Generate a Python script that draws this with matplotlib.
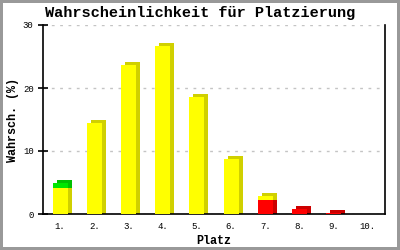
import numpy as np
import matplotlib.pyplot as plt
from matplotlib.transforms import ScaledTranslation

places = ["1.", "2.", "3.", "4.", "5.", "6.", "7.", "8.", "9.", "10."]
red_part = [0, 0, 0, 0, 0, 0, 2.3, 0.75, 0.12, 0]
yellow_part = [4.2, 14.4, 23.6, 26.6, 18.5, 8.8, 0.55, 0, 0, 0]
green_part = [0.65, 0, 0, 0, 0, 0, 0, 0, 0, 0]
yticks = [0, 10, 20, 30]

series = [
    (red_part, "#ff0000", "#cc0000"),
    (yellow_part, "#ffff00", "#d0d000"),
    (green_part, "#00e600", "#00c000"),
]

mono = "Liberation Mono"
fig = plt.figure(figsize=(4, 2.5), dpi=100)
fig.patch.set_edgecolor("#999999")
fig.patch.set_linewidth(3)
ax = fig.add_axes([0.1075, 0.144, 0.855, 0.756])

x = np.arange(len(places))
w = 0.44
depth = ax.transData + ScaledTranslation(4 / 100, 3 / 100, fig.dpi_scale_trans)

bottom = np.zeros(len(places))
for vals, front, side in series:
    vals = np.array(vals)
    has = vals > 0
    # darker copy shifted up/right gives the 3d side and top
    ax.bar(x[has], vals[has] + 0.6, bottom=bottom[has] - 0.6, width=w,
           color=side, transform=depth, zorder=2, linewidth=0)
    bottom = bottom + vals

bottom = np.zeros(len(places))
for vals, front, side in series:
    vals = np.array(vals)
    has = vals > 0
    ax.bar(x[has], vals[has], bottom=bottom[has], width=w,
           color=front, zorder=3, linewidth=0)
    bottom = bottom + vals

ax.set_xlim(-0.5, len(places) - 0.5)
ax.set_ylim(0, 30)
ax.set_yticks(yticks)
ax.set_xticks(x)
ax.set_xticklabels(places, fontfamily=mono, fontsize=6.5)
ax.set_yticklabels([str(t) for t in yticks], fontfamily=mono, fontsize=6.5)
ax.tick_params(axis="y", direction="inout", length=6.5, width=1.2, pad=3.5)
ax.tick_params(axis="x", length=0, pad=6)
ax.yaxis.grid(True, color="#c4c4c4", linestyle=(0, (2, 4)), linewidth=1)
ax.set_axisbelow(True)
ax.spines["top"].set_visible(False)
for s in ["left", "right", "bottom"]:
    ax.spines[s].set_linewidth(1.2)

ax.set_xlabel("Platz", fontfamily=mono, fontweight="bold", fontsize=8.5, labelpad=2.5)
ax.set_ylabel("Wahrsch. (%)", fontfamily=mono, fontweight="bold", fontsize=8.5, labelpad=3)
fig.text(0.5, 0.948, "Wahrscheinlichkeit für Platzierung", ha="center", va="center",
         fontfamily=mono, fontweight="bold", fontsize=11)

fig.savefig("out.png", dpi=100, facecolor="white", edgecolor=fig.get_edgecolor())
